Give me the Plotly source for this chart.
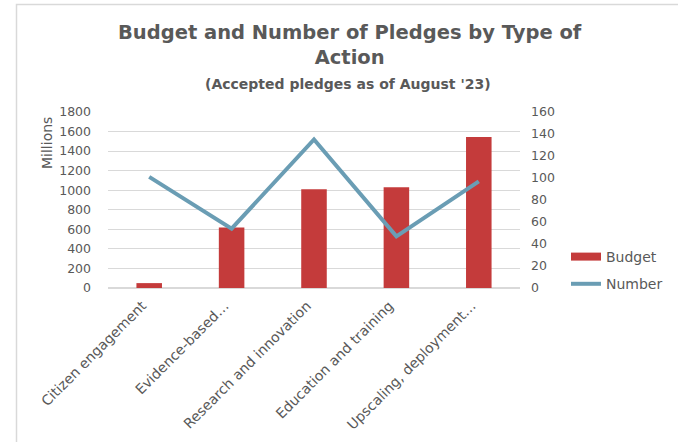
import plotly.graph_objects as go

categories = ["Citizen engagement", "Evidence-based…", "Research and innovation",
              "Education and training", "Upscaling, deployment…"]
budget_millions = [50, 620, 1010, 1030, 1545]
number_pledges = [101, 54, 135, 47, 97]

W, H = 678, 442
# plot area in page coords: x 108..520, y 112..288
PX0, PX1, PY0, PY1 = 108, 520, 112, 288
L, R = PX0, W - PX1
T, B = PY0, H - PY1
FONT = "DejaVu Sans"
GRAY = "#595959"
RED = "#c43b3b"
BLUE = "#6a9db4"

fig = go.Figure()
fig.add_trace(go.Bar(x=categories, y=budget_millions, name="Budget",
                     marker=dict(color=RED, line=dict(width=0)),
                     width=0.31, yaxis="y", showlegend=False, legendgroup="a"))
# legend-only entry so the swatch is a wide red band like the original
fig.add_trace(go.Scatter(x=[None], y=[None], name="Budget", mode="lines",
                         line=dict(color=RED, width=8), legendgroup="a"))
fig.add_trace(go.Scatter(x=categories, y=number_pledges, name="Number",
                         mode="lines", line=dict(color=BLUE, width=4),
                         yaxis="y2", legendgroup="b"))

def px_x(sx):
    return (sx - PX0) / (PX1 - PX0)

def px_y(sy):
    return (PY1 - sy) / (PY1 - PY0)

fig.update_layout(
    width=W, height=H,
    margin=dict(l=L, r=R, t=T, b=B, autoexpand=False),
    paper_bgcolor="white", plot_bgcolor="white",
    font=dict(family=FONT, color=GRAY, size=13),
    showlegend=True,
    legend=dict(x=px_x(566), y=px_y(241), xanchor="left", yanchor="top",
                font=dict(size=14, color=GRAY), traceorder="grouped",
                tracegroupgap=6, bgcolor="rgba(0,0,0,0)"),
    xaxis=dict(tickangle=-45, showgrid=False, showline=False, ticks="",
               automargin=False, tickfont=dict(size=14, color=GRAY),
               ticklabelstandoff=6, ticklabelshift=-7),
    yaxis=dict(range=[0, 1800], dtick=200, showgrid=True, gridcolor="#d9d9d9",
               gridwidth=1, zeroline=True, zerolinecolor="#d9d9d9", showline=False,
               automargin=False, ticks="", tickfont=dict(size=12.5, color=GRAY),
               ticklabelstandoff=16),
    yaxis2=dict(range=[0, 160], dtick=20, overlaying="y", side="right",
                showgrid=False, zeroline=False, showline=False, ticks="",
                automargin=False, tickfont=dict(size=12.5, color=GRAY),
                ticklabelstandoff=10),
    bargap=0.69,
)

annotations = [
    dict(text="<b>Budget and Number of Pledges by Type of<br>Action</b>",
         x=px_x(350), y=px_y(19), xref="paper", yref="paper",
         xanchor="center", yanchor="top", showarrow=False,
         font=dict(size=19.5, color=GRAY, family=FONT)),
    dict(text="<b>(Accepted pledges as of August '23)</b>",
         x=px_x(348), y=px_y(84), xref="paper", yref="paper",
         xanchor="center", yanchor="middle", showarrow=False,
         font=dict(size=14, color=GRAY, family=FONT)),
    dict(text="Millions", textangle=-90,
         x=px_x(47), y=px_y(143), xref="paper", yref="paper",
         xanchor="center", yanchor="middle", showarrow=False,
         font=dict(size=14, color=GRAY, family=FONT)),
]
fig.update_layout(annotations=annotations)

fig.add_shape(type="rect", xref="paper", yref="paper",
              x0=px_x(16.5), y0=px_y(470), x1=px_x(720), y1=px_y(4.5),
              line=dict(color="#d9d9d9", width=1.5), layer="below")

fig.write_html("out.html",
               config={"displayModeBar": False},
               post_script="document.body.style.margin='0';"
                           "document.body.style.overflow='hidden';")
